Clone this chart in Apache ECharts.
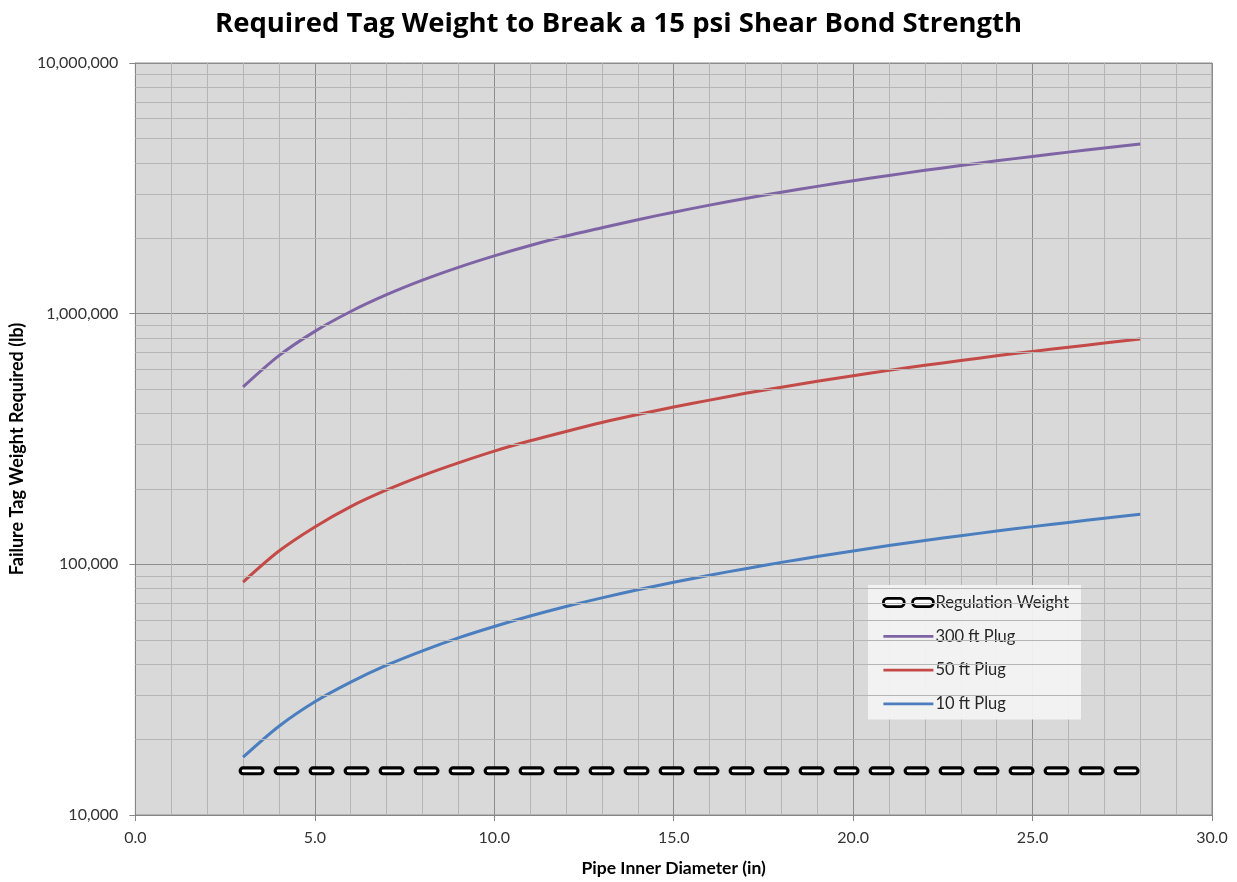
<!DOCTYPE html>
<html>
<head>
<meta charset="utf-8">
<title>Required Tag Weight to Break a 15 psi Shear Bond Strength</title>
<script src="https://cdn.jsdelivr.net/npm/echarts@6/dist/echarts.min.js"></script>
<style>
  html, body { margin: 0; padding: 0; background: #ffffff; }
  #chart { width: 1237px; height: 882px; }
</style>
</head>
<body>
<div id="chart"></div>
<script>
// Pipe inner diameter (in)
const diameters = [3, 4, 5, 6, 7, 8, 9, 10, 11, 12, 13, 14, 15, 16, 17, 18, 19, 20, 21, 22, 23, 24, 25, 26, 27, 28];

// Failure tag weight required (lb) for each plug length
const plug300 = [510000, 680000, 850000, 1020000, 1190000, 1360000, 1530000, 1700000, 1870000, 2040000, 2200000, 2370000, 2540000, 2710000, 2880000, 3050000, 3220000, 3390000, 3560000, 3730000, 3900000, 4070000, 4240000, 4410000, 4580000, 4750000];
const plug50 = [85000, 113000, 141000, 170000, 198000, 226000, 254000, 283000, 311000, 339000, 368000, 396000, 424000, 452000, 481000, 509000, 537000, 565000, 594000, 622000, 650000, 679000, 707000, 735000, 763000, 792000];
const plug10 = [17000, 22600, 28300, 33900, 39600, 45200, 50900, 56500, 62200, 67900, 73500, 79200, 84800, 90500, 96100, 101800, 107400, 113100, 118800, 124400, 130100, 135700, 141400, 147000, 152700, 158300];

// Regulation weight (lb), constant across the diameter range
const regulationX = [3, 28];
const regulationWeight = [15000, 15000];

// Minor gridlines of the logarithmic weight axis
const yMinorTicks = [20000, 30000, 40000, 50000, 60000, 70000, 80000, 90000,
  200000, 300000, 400000, 500000, 600000, 700000, 800000, 900000,
  2000000, 3000000, 4000000, 5000000, 6000000, 7000000, 8000000, 9000000];

const FONT = 'Lato, "Open Sans", sans-serif';
const TITLE_FONT = '"Open Sans", Lato, sans-serif';
const pairs = (xs, ys) => xs.map((x, i) => [x, ys[i]]);

const chart = echarts.init(document.getElementById('chart'), null, { renderer: 'canvas' });

// dash pattern of the regulation line: segment, gap
const regDash = [17, 18];
// legend swatches: two outlined pills, and a plain bar (tiny corner dots keep the 50x10 frame)
const pillIcon = 'path://M5,1 L17,1 A4,4 0 0 1 17,9 L5,9 A4,4 0 0 1 5,1 Z M33,1 L45,1 A4,4 0 0 1 45,9 L33,9 A4,4 0 0 1 33,1 Z';
const barIcon = 'path://M0,0 L0.01,0 L0,0.01 Z M0,3.6 L50,3.6 L50,6.4 L0,6.4 Z M50,10 L49.99,10 L50,9.99 Z';

chart.setOption({
  animation: false,
  backgroundColor: '#ffffff',
  title: {
    text: 'Required Tag Weight to Break a 15 psi Shear Bond Strength',
    left: 'center',
    top: 5,
    textStyle: { fontFamily: TITLE_FONT, fontWeight: 'bold', fontSize: 27.5, color: '#000000' }
  },
  grid: {
    left: 135, right: 25, top: 63, bottom: 63,
    show: true,
    backgroundColor: '#d9d9d9',
    borderColor: '#8c8c8c',
    borderWidth: 1
  },
  legend: {
    orient: 'vertical',
    left: 868,
    top: 585,
    padding: [9, 12, 7, 14],
    itemGap: 16.8,
    itemWidth: 50,
    itemHeight: 14,
    backgroundColor: 'rgba(243,243,243,0.95)',
    textStyle: { fontFamily: FONT, fontSize: 16.5, lineHeight: 16, color: '#262626', padding: [0, 0, 0, -3] },
    data: [
      { name: 'Regulation Weight', icon: pillIcon,
        itemStyle: { color: '#ffffff', borderColor: '#000000', borderWidth: 2.8 } },
      { name: '300 ft Plug', icon: barIcon, itemStyle: { color: '#7f64a5', borderWidth: 0 } },
      { name: '50 ft Plug', icon: barIcon, itemStyle: { color: '#c44a48', borderWidth: 0 } },
      { name: '10 ft Plug', icon: barIcon, itemStyle: { color: '#4a7ebf', borderWidth: 0 } }
    ]
  },
  xAxis: {
    type: 'value',
    min: 0, max: 30, interval: 5,
    name: 'Pipe Inner Diameter (in)',
    nameLocation: 'middle',
    nameGap: 44,
    nameTextStyle: { fontFamily: FONT, fontWeight: 'bold', fontSize: 17.5, color: '#000000' },
    axisLine: { show: true, onZero: false, lineStyle: { color: '#868686', width: 1 } },
    axisTick: { show: true, inside: false, length: 6, lineStyle: { color: '#868686' } },
    axisLabel: {
      margin: 15, fontFamily: FONT, fontSize: 16, color: '#333333',
      formatter: v => Number(v).toFixed(1)
    },
    splitLine: { show: true, lineStyle: { color: '#8c8c8c', width: 1 } },
    minorTick: { show: false, splitNumber: 5 },
    minorSplitLine: { show: true, lineStyle: { color: '#b5b5b5', width: 1 } }
  },
  yAxis: {
    type: 'log',
    logBase: 10,
    min: 10000, max: 10000000,
    name: 'Failure Tag Weight Required (lb)',
    nameLocation: 'middle',
    nameGap: 106,
    nameTextStyle: { fontFamily: FONT, fontWeight: 'bold', fontSize: 18, color: '#000000', padding: [0, 20, 0, 0] },
    axisLine: { show: true, lineStyle: { color: '#868686', width: 1 } },
    axisTick: { show: true, inside: false, length: 6, lineStyle: { color: '#868686' } },
    axisLabel: {
      margin: 17, fontFamily: FONT, fontSize: 16, color: '#333333',
      formatter: v => Math.round(v).toLocaleString('en-US')
    },
    splitLine: { show: true, lineStyle: { color: '#8c8c8c', width: 1 } }
  },
  series: [
    {
      // minor horizontal gridlines of the log axis
      name: 'minor-grid',
      type: 'line',
      data: [],
      silent: true,
      z: 1,
      markLine: {
        silent: true,
        symbol: ['none', 'none'],
        label: { show: false },
        lineStyle: { color: '#b5b5b5', width: 1, type: 'solid' },
        emphasis: { disabled: true },
        data: yMinorTicks.map(v => ({ yAxis: v }))
      }
    },
    {
      name: '300 ft Plug',
      type: 'line',
      data: pairs(diameters, plug300),
      symbol: 'none',
      smooth: 0.3,
      color: '#7f64a5',
      lineStyle: { width: 3, color: '#7f64a5' },
      z: 3
    },
    {
      name: '50 ft Plug',
      type: 'line',
      data: pairs(diameters, plug50),
      symbol: 'none',
      smooth: 0.3,
      color: '#c44a48',
      lineStyle: { width: 3, color: '#c44a48' },
      z: 3
    },
    {
      name: '10 ft Plug',
      type: 'line',
      data: pairs(diameters, plug10),
      symbol: 'none',
      smooth: 0.3,
      color: '#4a7ebf',
      lineStyle: { width: 3, color: '#4a7ebf' },
      z: 3
    },
    {
      // dashed outline of the regulation weight line
      name: 'Regulation Weight',
      type: 'line',
      data: pairs(regulationX, regulationWeight),
      symbol: 'none',
      color: '#000000',
      lineStyle: { width: 9, color: '#000000', type: regDash, cap: 'round' },
      z: 4
    },
    {
      // white core inside each dash
      name: 'Regulation Weight',
      type: 'line',
      data: pairs(regulationX, regulationWeight),
      symbol: 'none',
      color: '#ffffff',
      lineStyle: { width: 2.6, color: '#ffffff', type: regDash, cap: 'round' },
      z: 5
    }
  ]
});
</script>
</body>
</html>
